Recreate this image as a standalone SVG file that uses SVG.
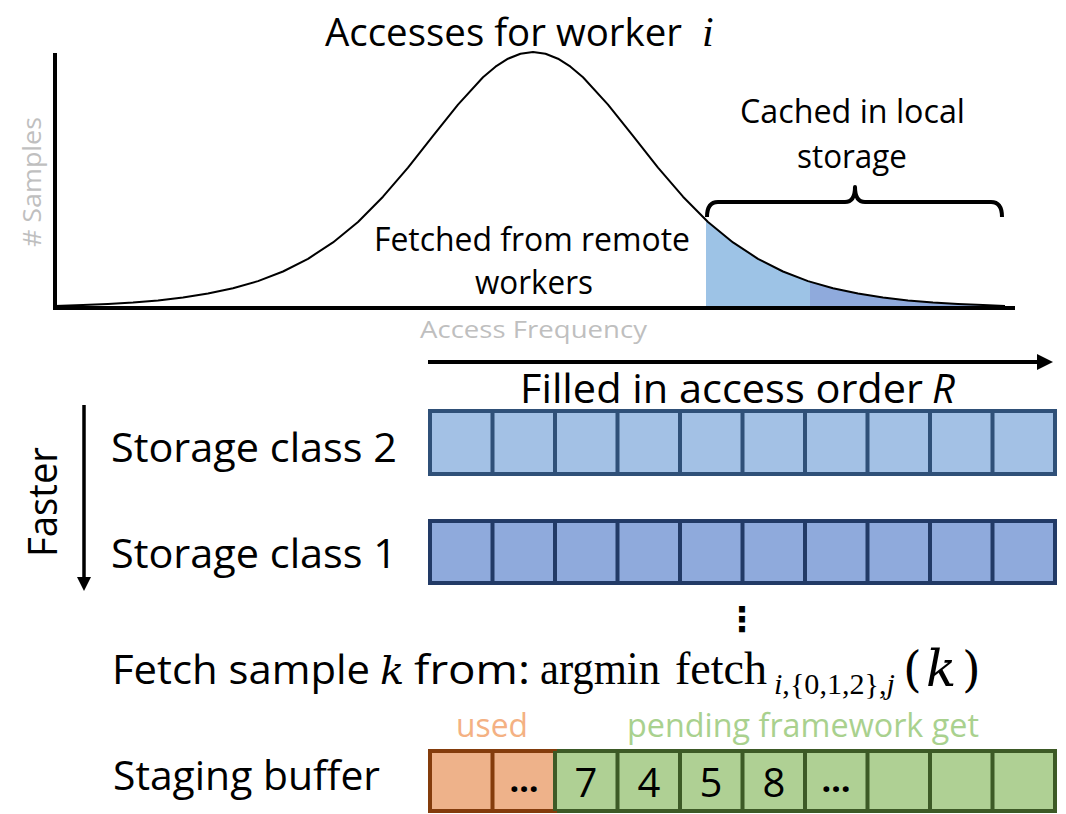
<svg xmlns="http://www.w3.org/2000/svg" width="1066" height="814" viewBox="0 0 1066 814">
<style>
  .sans { font-family: "Open Sans", "Noto Sans", "Liberation Sans", sans-serif; fill: #000; }
  .serif { font-family: "Liberation Serif", "DejaVu Serif", serif; fill: #000; }
  .dserif { font-family: "DejaVu Serif", "Liberation Serif", serif; fill: #000; }
  .ital { font-style: italic; }
  .gray { fill: #BFBFBF; }
  .axis { stroke: #000; stroke-width: 4; fill: none; }
  .row2 { fill: #A3C1E5; stroke: #2F5078; stroke-width: 4; }
  .row1 { fill: #8FAADC; stroke: #223A66; stroke-width: 4; }
  .used { fill: #EEB28A; stroke: #843C0C; stroke-width: 4; }
  .pend { fill: #AFD094; stroke: #3D5A26; stroke-width: 4; }
  .div2 { stroke: #2F5078; stroke-width: 4; }
  .div1 { stroke: #223A66; stroke-width: 4; }
  .divu { stroke: #843C0C; stroke-width: 4; }
  .divp { stroke: #3D5A26; stroke-width: 4; }
</style>
<defs>
  <marker id="ah" viewBox="0 0 10 10" refX="0" refY="5" markerWidth="4.2" markerHeight="4" orient="auto" markerUnits="strokeWidth">
    <path d="M0,0 L10,5 L0,10 Z" fill="#000"/>
  </marker>
</defs>
<rect width="1066" height="814" fill="#fff"/>

<g id="title">
  <text class="sans" x="325" y="46" font-size="39" textLength="357" lengthAdjust="spacingAndGlyphs">Accesses for worker</text>
  <text class="serif ital" x="702" y="46" font-size="42">i</text>
</g>

<g id="chart">
  <polygon fill="#9DC3E6" points="706,308 706,220 708,222 733,242.4 758,258.8 783,271.5 808,281.1 810,281.7 810,308"/>
  <polygon fill="#8FAADC" points="810,308 810,281.7 833,288.3 858,293.6 883,297.5 908,300.4 933,302.5 958,304 983,305.1 1005,306 1005,308"/>
  <polyline fill="none" stroke="#000" stroke-width="2" stroke-linejoin="round" points="55,306 83,305.1 108,304 133,302.5 158,300.4 183,297.5 208,293.6 233,288.3 258,281.1 283,271.5 308,258.8 333,242.4 358,222 383,196.7 408,167.7 433,135.9 458,104.6 483,77.3 495.5,66.7 508,58.7 520.5,53.7 533,52 545.5,53.7 558,58.7 570.5,66.7 583,77.3 608,104.6 633,135.9 658,167.7 683,196.7 708,222 733,242.4 758,258.8 783,271.5 808,281.1 833,288.3 858,293.6 883,297.5 908,300.4 933,302.5 958,304 983,305.1 1005,306"/>
  <path class="axis" d="M55,53 L55,310 M53,308 L1015,308"/>
  <text class="sans gray" transform="translate(41,182) rotate(-90)" text-anchor="middle" font-size="25" textLength="130" lengthAdjust="spacingAndGlyphs"># Samples</text>
  <text class="sans gray" x="420" y="338" font-size="23" textLength="227" lengthAdjust="spacingAndGlyphs">Access Frequency</text>
  <text class="sans" x="374" y="251" font-size="33" textLength="316" lengthAdjust="spacingAndGlyphs">Fetched from remote</text>
  <text class="sans" x="475" y="294" font-size="33" textLength="118" lengthAdjust="spacingAndGlyphs">workers</text>
</g>

<g id="cached">
  <path d="M707,217 Q707,202 718,202 L845,202 Q855,202 855,187 Q855,202 865,202 L991,202 Q1002,202 1002,217" fill="none" stroke="#000" stroke-width="4" stroke-linejoin="round"/>
  <text class="sans" x="740" y="123" font-size="33" textLength="225" lengthAdjust="spacingAndGlyphs">Cached in local</text>
  <text class="sans" x="797" y="168" font-size="33" textLength="110" lengthAdjust="spacingAndGlyphs">storage</text>
</g>

<g id="connectors">
  <line x1="428" y1="362" x2="1037" y2="362" stroke="#000" stroke-width="4" marker-end="url(#ah)"/>
  <line x1="84" y1="405" x2="84" y2="577" stroke="#000" stroke-width="3.5" marker-end="url(#ah)"/>
</g>

<g id="order-label">
  <text class="sans" x="520" y="403" font-size="40" textLength="403" lengthAdjust="spacingAndGlyphs">Filled in access order</text>
  <text class="sans ital" x="932" y="403" font-size="40">R</text>
</g>

<g id="faster">
  <text class="sans" transform="translate(57,502) rotate(-90)" text-anchor="middle" font-size="40" textLength="110" lengthAdjust="spacingAndGlyphs">Faster</text>
</g>

<g id="storage-class-2">
  <text class="sans" x="111" y="462" font-size="40" textLength="286" lengthAdjust="spacingAndGlyphs">Storage class 2</text>
  <rect class="row2" x="430" y="411" width="625" height="63"/>
  <path class="div2" d="M492.5,411V474 M555,411V474 M617.5,411V474 M680,411V474 M742.5,411V474 M805,411V474 M867.5,411V474 M930,411V474 M992.5,411V474"/>
</g>

<g id="storage-class-1">
  <text class="sans" x="111" y="568" font-size="40" textLength="286" lengthAdjust="spacingAndGlyphs">Storage class 1</text>
  <rect class="row1" x="430" y="521" width="625" height="62"/>
  <path class="div1" d="M492.5,521V583 M555,521V583 M617.5,521V583 M680,521V583 M742.5,521V583 M805,521V583 M867.5,521V583 M930,521V583 M992.5,521V583"/>
</g>

<g id="vdots">
  <text x="742" y="631" font-family="DejaVu Sans, sans-serif" font-size="34" font-weight="bold" text-anchor="middle">⋮</text>
</g>

<g id="fetch-rule">
  <text class="sans" x="112" y="684" font-size="40" textLength="258" lengthAdjust="spacingAndGlyphs">Fetch sample</text>
  <text class="dserif ital" x="380" y="684" font-size="40">k</text>
  <text class="sans" x="414" y="684" font-size="40" textLength="116" lengthAdjust="spacingAndGlyphs">from:</text>
  <text class="serif" x="540" y="684" font-size="46" textLength="120" lengthAdjust="spacingAndGlyphs">argmin</text>
  <text class="serif" x="675" y="684" font-size="46" textLength="92" lengthAdjust="spacingAndGlyphs">fetch</text>
  <text class="serif" x="774" y="694" font-size="30" textLength="121" lengthAdjust="spacingAndGlyphs"><tspan class="ital">i</tspan>,{0,1,2},<tspan class="ital">j</tspan></text>
  <text class="dserif" y="686" font-size="48"><tspan x="903">(</tspan><tspan x="926" class="ital" font-size="50">k</tspan><tspan x="962">)</tspan></text>
</g>

<g id="staging-buffer">
  <text class="sans" x="113" y="790" font-size="40" textLength="267" lengthAdjust="spacingAndGlyphs">Staging buffer</text>
  <text class="sans" x="456" y="737" font-size="33" style="fill:#F4B183" textLength="72" lengthAdjust="spacingAndGlyphs">used</text>
  <text class="sans" x="627" y="737" font-size="33" style="fill:#A9D18E" textLength="352" lengthAdjust="spacingAndGlyphs">pending framework get</text>
  <rect class="pend" x="555" y="751" width="500" height="60"/>
  <rect class="used" x="430" y="751" width="125" height="60"/>
  <path class="divu" d="M492.5,751V811"/>
  <path class="divp" d="M555,751V811 M617.5,751V811 M680,751V811 M742.5,751V811 M805,751V811 M867.5,751V811 M930,751V811 M992.5,751V811"/>
  <g class="sans" font-size="40" text-anchor="middle">
    <text x="524" y="792" font-size="34" font-weight="bold">…</text>
    <text x="586" y="797">7</text>
    <text x="649" y="797">4</text>
    <text x="711" y="797">5</text>
    <text x="774" y="797">8</text>
    <text x="836" y="792" font-size="34" font-weight="bold">…</text>
  </g>
</g>
</svg>
